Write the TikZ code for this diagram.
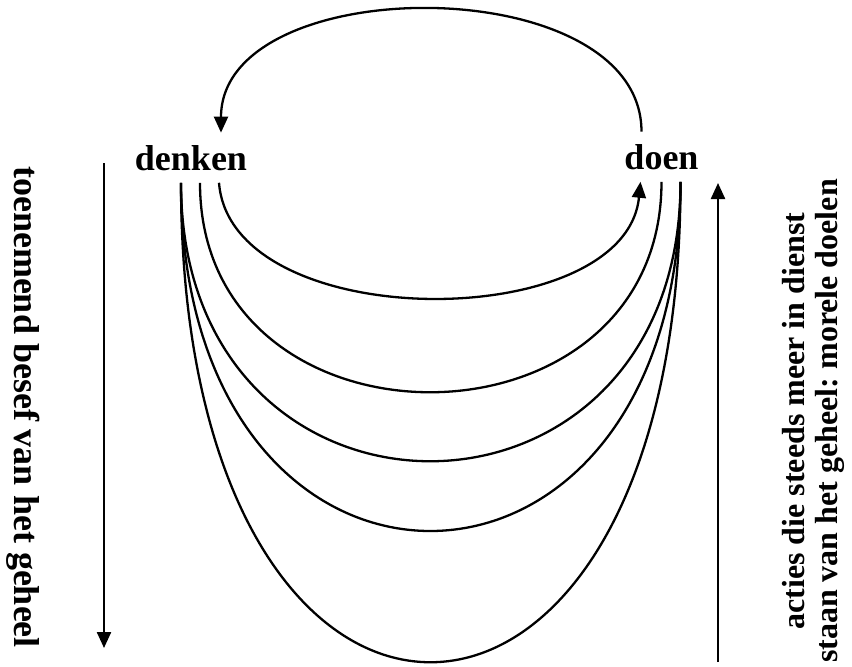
\documentclass[tikz,border=0pt]{standalone}
\usepackage{fontspec}
\setmainfont{Liberation Serif}
\usetikzlibrary{positioning, arrows.meta, calc}
\frenchspacing

\begin{document}
\begin{tikzpicture}[x=0.5pt, y=-0.5pt,
    word/.style={font=\fontsize{18}{21}\selectfont\bfseries, inner sep=6pt},
    sidetext/.style={font=\fontsize{16}{16.5}\selectfont\bfseries, align=center, inner sep=0pt},
    loop/.style={line width=1.15pt},
    tip/.style={line width=1.15pt, -{Triangle[length=8pt, width=7pt]}}]
    \useasboundingbox (0,0) rectangle (852,666);

    % The two words
    \node[word, anchor=base] (denken) at (191,170) {denken};
    \node[word, anchor=base] (doen) at (661.5,169) {doen};

    % Back from doen to denken
    \draw[tip] ($(doen.north)+(-20,0)$) .. controls ($(doen.north)+(-20,-163)$) and ($(denken.north)+(30,-163)$) .. ($(denken.north)+(30,0)$);

    % Loops below, widening
    \draw[tip] ($(denken.south)+(28,0)$) .. controls ($(denken.south)+(40,153)$) and ($(doen.south)+(-36,153)$) .. ($(doen.south)+(-21,0)$);
    \draw[loop] ($(denken.south)+(9,0)$) .. controls ($(denken.south)+(9,280)$) and ($(doen.south)+(0,280)$) .. (doen.south);
    \foreach \h in {372, 465, 640} {
      \draw[loop] ($(denken.south)+(-10,0)$) .. controls ($(denken.south)+(-10,\h)$) and ($(doen.south)+(19,\h)$) .. ($(doen.south)+(19,0)$);
    }

    % Side arrows
    \coordinate (lefttop) at (104,163);
    \coordinate (leftend) at (104,648);
    \coordinate (rightfoot) at (718,662);
    \coordinate (righttop) at (718,183);
    \draw[tip] (lefttop) -- (leftend);
    \draw[tip] (rightfoot) -- (righttop);

    % Side texts
    \node[word, inner sep=0pt, rotate=-90] (besef) at (23,407) {toenemend besef van het geheel};
    \node[sidetext, rotate=90] (acties) at (813,421) {acties die steeds meer in dienst\\staan van het geheel: morele doelen};
\end{tikzpicture}
\end{document}
